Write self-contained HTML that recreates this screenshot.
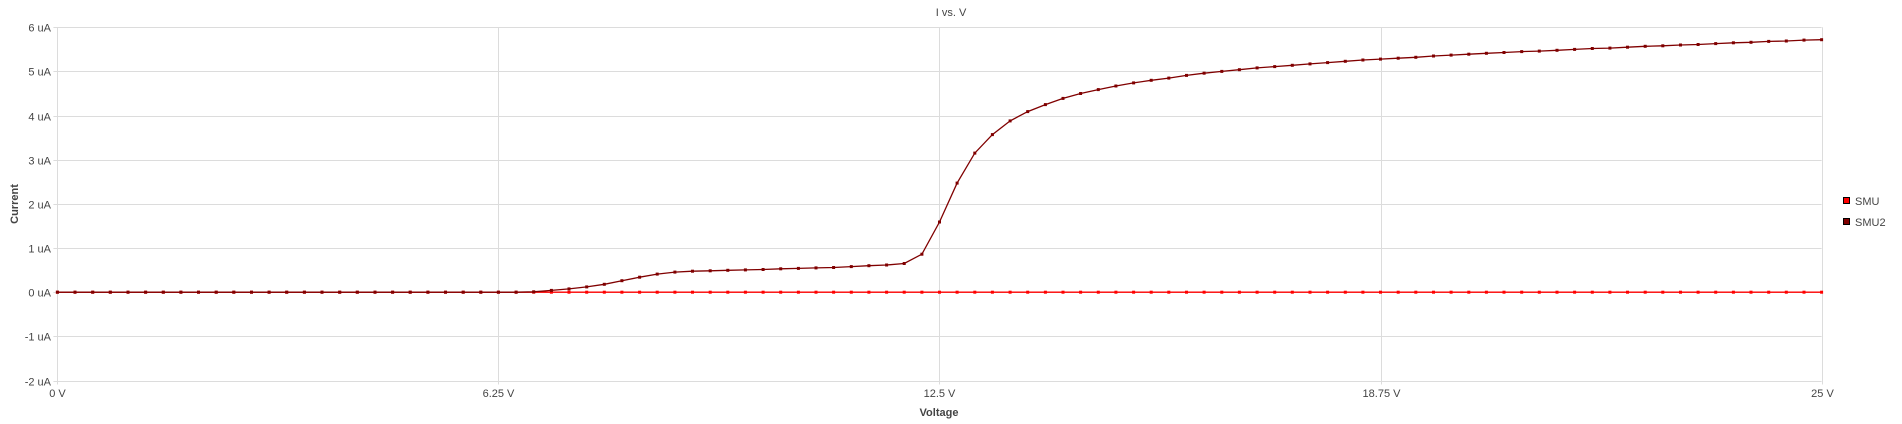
<!DOCTYPE html>
<html><head><meta charset="utf-8"><style>
body{margin:0;background:#fff;}
svg{display:block;font-family:"Liberation Sans",sans-serif;}
</style></head><body>
<svg id="chart" width="1902" height="424" xmlns="http://www.w3.org/2000/svg">
<text x="951" y="16" text-anchor="middle" font-size="11" fill="#444">I vs. V</text>
<g id="grid"></g>
<g id="series"></g>
<text x="939" y="416" text-anchor="middle" font-size="11" font-weight="bold" fill="#444">Voltage</text>
<text transform="translate(18,204) rotate(-90)" text-anchor="middle" font-size="11" font-weight="bold" fill="#444">Current</text>
<g>
<rect x="1843.5" y="197.5" width="6" height="6" fill="#ff0000" stroke="#000" stroke-width="1"/>
<text x="1855" y="205" font-size="11" fill="#444">SMU</text>
<rect x="1843.5" y="218.5" width="6" height="6" fill="#800000" stroke="#000" stroke-width="1"/>
<text x="1855" y="226" font-size="11" fill="#444">SMU2</text>
</g>
</svg>
<script>
const xTicks=[0,6.25,12.5,18.75,25];
const xTickLabels=["0 V","6.25 V","12.5 V","18.75 V","25 V"];
const yTicks=[-2,-1,0,1,2,3,4,5,6];
const yTickLabels=["-2 uA","-1 uA","0 uA","1 uA","2 uA","3 uA","4 uA","5 uA","6 uA"];
const voltStep=0.25;
const smu2=[0,0,0,0,0,0,0,0,0,0,0,0,0,0,0,0,0,0,0,0,0,0,0,0,0,0,0,
0.01,0.04,0.075,0.12,0.18,0.26,0.34,0.41,0.455,0.475,0.485,0.495,0.505,0.515,0.53,0.54,0.55,0.56,0.58,0.6,0.615,0.65,0.86,1.59,2.47,3.15,3.57,3.88,4.09,4.25,4.39,4.5,4.59,4.67,4.74,4.8,4.85,4.91,4.96,5.0,5.04,5.08,5.11,5.14,5.17,5.2,5.23,5.26,5.28,5.3,5.32,5.35,5.37,5.39,5.41,5.43,5.45,5.46,5.48,5.5,5.52,5.53,5.55,5.57,5.58,5.6,5.61,5.63,5.65,5.66,5.68,5.69,5.71,5.72];
const smu=smu2.map(()=>0);

const L=57.4,R=1821.6,T=27.3,B=380.5;
const xs=v=>L+(v-0)/(25-0)*(R-L);
const ys=c=>B-(c-(-2))/(6-(-2))*(B-T);
const NS="http://www.w3.org/2000/svg";
const grid=document.getElementById('grid'),ser=document.getElementById('series');
function mk(tag,attrs,parent){const e=document.createElementNS(NS,tag);for(const k in attrs)e.setAttribute(k,attrs[k]);parent.appendChild(e);return e;}
yTicks.forEach((t,i)=>{
 const y=Math.round(ys(t))+0.5;
 const g=mk('line',{x1:L-4,x2:R,y1:y,y2:y,stroke:'#dcdcdc','stroke-width':1},grid);
 
 
 const tx=mk('text',{x:51,y:y+4,'text-anchor':'end','font-size':11,fill:'#444'},grid);
 tx.textContent=yTickLabels[i];
 
 
});
xTicks.forEach((t,i)=>{
 const x=Math.round(xs(t))+0.5;
 const g=mk('line',{x1:x,x2:x,y1:T,y2:B+4,stroke:'#dcdcdc','stroke-width':1},grid);
 
 
 const tx=mk('text',{x:x,y:397,'text-anchor':'middle','font-size':11,fill:'#444'},grid);
 tx.textContent=xTickLabels[i];
 
 
});
function drawSeries(vals,color,name){
 const pts=vals.map((c,i)=>[xs(i*voltStep),ys(c)]);
 const p=mk('polyline',{points:pts.map(p=>p[0].toFixed(1)+','+p[1].toFixed(1)).join(' '),fill:'none',stroke:color,'stroke-width':1.3},ser);
 
 
 pts.forEach(q=>{
  const r=mk('rect',{x:(q[0]-1.5).toFixed(1),y:(q[1]-1.5).toFixed(1),width:3,height:3,fill:color},ser);
  
  
 });
}
drawSeries(smu,'#ff0000','smu');
drawSeries(smu2,'#800000','smu2');
</script>
</body></html>
